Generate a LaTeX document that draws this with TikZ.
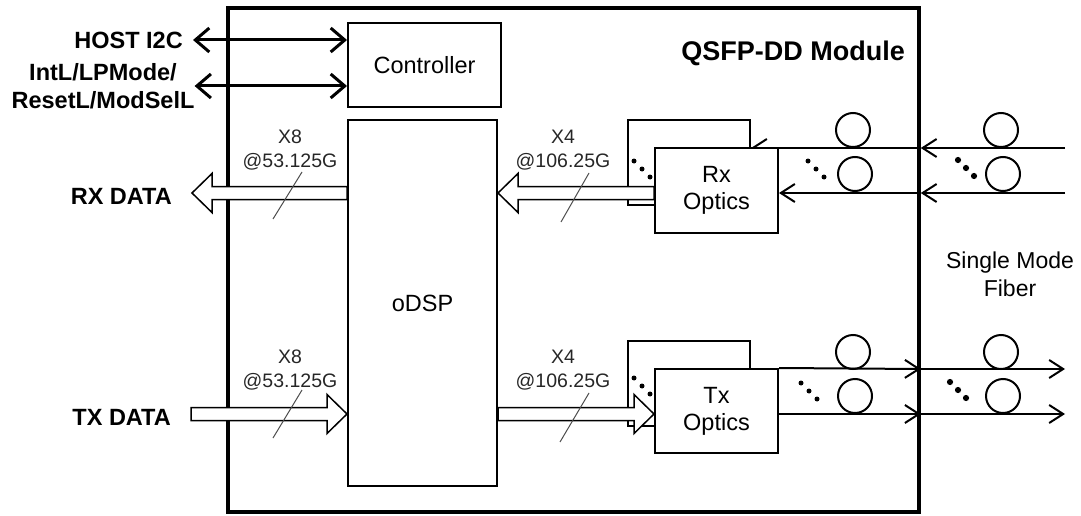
\documentclass[tikz,border=0pt]{standalone}
\usepackage{fontspec}
\setmainfont{Liberation Sans}
\usetikzlibrary{arrows.meta,calc}

% hollow wide arrow between two points on one row
\newcommand{\fatarrow}[2]{%
  \draw[line width=1.5pt, fill=white, line join=miter]
    let \p1=#1, \p2=#2, \n1={sign(\x2-\x1)} in
    (\x1,\y1+6.5pt) -- ({\x2-(\n1)*20pt},\y1+6.5pt) -- ({\x2-(\n1)*20pt},\y1+19.5pt)
    -- (\x2,\y1) -- ({\x2-(\n1)*20pt},\y1-19.5pt) -- ({\x2-(\n1)*20pt},\y1-6.5pt)
    -- (\x1,\y1-6.5pt) -- cycle;}

\begin{document}
\begin{tikzpicture}[x=1pt, y=-1pt,
  box/.style={draw, line width=2pt, fill=white, inner sep=0pt, align=center, font=\fontsize{23.5}{27}\selectfont},
  lbl/.style={font=\fontsize{23.5}{28}\selectfont\bfseries, align=center, inner sep=0pt},
  txt/.style={font=\fontsize{23}{28}\selectfont, align=center, inner sep=0pt},
  rate/.style={font=\fontsize{19.5}{24}\selectfont, align=center, text=black!85, inner sep=0pt},
  fib/.style={draw, circle, line width=2pt, minimum size=34pt, inner sep=0pt},
  bus/.style={line width=3pt, {Straight Barb[length=14pt,width=24pt]}-{Straight Barb[length=14pt,width=24pt]}},
  fiber/.style={line width=2pt, -{Straight Barb[length=14pt,width=18pt]}},
  lane/.style={line width=1pt, black!70}]
\useasboundingbox (0,0) rectangle (1081,516);

\node[draw, line width=3.5pt, minimum width=691pt, minimum height=504pt, inner sep=0pt] (module) at (573.5,260) {};
\node[lbl, font=\fontsize{27}{30}\selectfont\bfseries, anchor=east] (title) at (905,53) {QSFP-DD Module};

\node[box, minimum width=153pt, minimum height=84pt] (ctrl) at (424.5,65) {Controller};
\node[box, minimum width=149pt, minimum height=366pt] (odsp) at (422.5,303) {oDSP};

% optics, back copies
\node[box, minimum width=122pt, minimum height=85pt] (rxback) at (689,162.5) {};
\node[box, minimum width=122pt, minimum height=85pt] (txback) at (689,383.5) {};

\coordinate (rxa) at (1065,148);
\coordinate (rxb) at (1065,193);
\coordinate (txa) at (1065,369);
\coordinate (txb) at (1065,414);
\coordinate (rxtip) at (192,193);
\coordinate (txtail) at (191,414);

\draw[fiber] (module.east |- rxa) -- (rxback.east |- rxa);

\node[box, minimum width=123pt, minimum height=85pt] (rxopt) at (716.5,190.5) {Rx\\Optics};
\node[box, minimum width=123pt, minimum height=84pt] (txopt) at (716.5,411) {Tx\\Optics};

% data paths
\fatarrow{(odsp.west |- rxtip)}{(rxtip)}
\fatarrow{(rxopt.west |- rxtip)}{(odsp.east |- rxtip)}
\fatarrow{(txtail)}{(odsp.west |- txtail)}
\fatarrow{(odsp.east |- txtail)}{(txopt.west |- txtail)}

% fibers
\draw[fiber] (rxa) -- (module.east |- rxa);
\draw[fiber] (rxb) -- (module.east |- rxb);
\draw[fiber] (module.east |- rxb) -- (rxopt.east |- rxb);
\draw[fiber] (txopt.north east) -- (module.east |- txa);
\draw[fiber] (module.east |- txa) -- (txa);
\draw[fiber] (txopt.east |- txb) -- (module.east |- txb);
\draw[fiber] (module.east |- txb) -- (txb);

\node[fib] (rxc1) at (853,130) {};
\node[fib] (rxc2) at (855,174) {};
\node[fib] (rxc3) at (1001,130) {};
\node[fib] (rxc4) at (1003,174) {};
\node[fib] (txc1) at (853,352) {};
\node[fib] (txc2) at (855,396) {};
\node[fib] (txc3) at (1001,352) {};
\node[fib] (txc4) at (1003,396) {};

\foreach \px/\py/\r in {634/161/2.5, 808/161/2.5, 958/160/3.1, 634/378/2.5, 801/383/2.5, 950/382/3.1}
  \foreach \i in {0,1,2}
    \fill (\px+8*\i,\py+8*\i) circle (\r pt);

% lane counts
\node[rate] (rxrate) at (290,150) {X8\\@53.125G};
\node[rate] (txrate) at (290,370) {X8\\@53.125G};
\node[rate] (rxrate4) at (563,150) {X4\\@106.25G};
\node[rate] (txrate4) at (563,370) {X4\\@106.25G};
\draw[lane] (302,172) -- (273,219);
\draw[lane] (302,390) -- (273,438);
\draw[lane] (589,173) -- (561,222);
\draw[lane] (589,393) -- (560,442);

% host side
\node[lbl, anchor=east] (host) at (183,40) {HOST I2C};
\node[lbl] (sig) at (103,86) {IntL/LPMode/\\ResetL/ModSelL};
\draw[bus, shorten <=10pt] (host.east) -- (host.east -| ctrl.west);
\draw[bus] (sig.east) -- (sig.east -| ctrl.west);

\node[lbl, anchor=east] (rxdata) at (172,196) {RX DATA};
\node[lbl, anchor=east] (txdata) at (171,417) {TX DATA};

\node[txt] (smf) at (1010,274) {Single Mode\\Fiber};
\end{tikzpicture}
\end{document}
